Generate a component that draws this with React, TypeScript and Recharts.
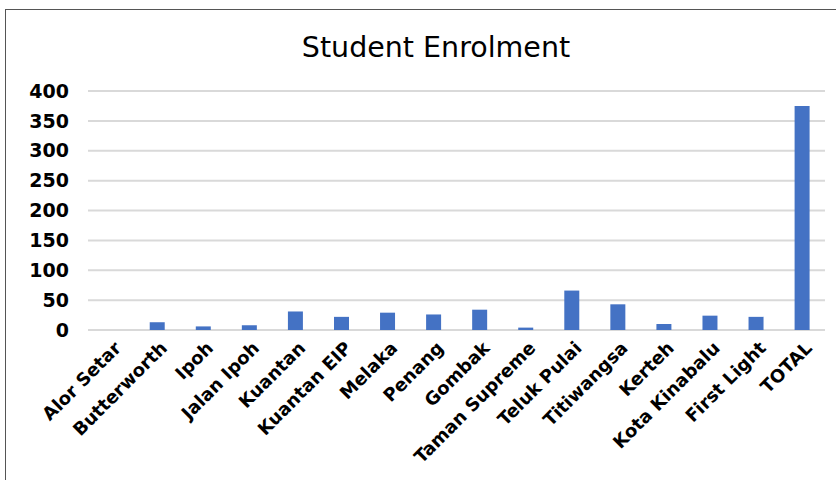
import React from 'react';
import { BarChart, Bar, XAxis, YAxis, CartesianGrid } from 'recharts';

const branches = [
  'Alor Setar',
  'Butterworth',
  'Ipoh',
  'Jalan Ipoh',
  'Kuantan',
  'Kuantan EIP',
  'Melaka',
  'Penang',
  'Gombak',
  'Taman Supreme',
  'Teluk Pulai',
  'Titiwangsa',
  'Kerteh',
  'Kota Kinabalu',
  'First Light',
  'TOTAL',
];

const enrolment = [0, 13, 6, 8, 31, 22, 29, 26, 34, 4, 66, 43, 10, 24, 22, 375];

const yTicks = [0, 50, 100, 150, 200, 250, 300, 350, 400];

const data = branches.map((name, i) => ({ name, value: enrolment[i] }));

const FONT = '"DejaVu Sans", Verdana, sans-serif';

// rotated category labels, anchored at the end like Excel does
const BranchTick = (props: any) => {
  const { x, y, payload } = props;
  return (
    <g transform={`translate(${x + 2},${y + 2})`}>
      <text
        transform="rotate(-45)"
        textAnchor="end"
        dy="0.72em"
        fontFamily={FONT}
        fontWeight="bold"
        fontSize={18}
        fill="#000"
      >
        {payload.value}
      </text>
    </g>
  );
};

export default function App() {
  return (
    <div
      style={{
        position: 'fixed',
        left: 0,
        top: 0,
        width: 836,
        height: 480,
        background: '#fff',
        overflow: 'hidden',
      }}
    >
      <div
        style={{
          position: 'absolute',
          left: 5,
          top: 9,
          width: 900,
          height: 600,
          border: '1px solid #555',
        }}
      />
      <div
        style={{
          position: 'absolute',
          left: 0,
          width: 872,
          top: 31,
          textAlign: 'center',
          fontFamily: FONT,
          fontSize: 28.5,
          color: '#000',
        }}
      >
        Student Enrolment
      </div>
      <div style={{ position: 'absolute', left: 0, top: 0 }}>
        <BarChart
          width={836}
          height={480}
          data={data}
          margin={{ top: 91, right: 11, bottom: 0, left: 0 }}
          barCategoryGap="34%"
        >
          <CartesianGrid vertical={false} stroke="#d9d9d9" strokeWidth={2} />
          <XAxis
            dataKey="name"
            interval={0}
            height={150}
            tickLine={false}
            axisLine={false}
            tick={<BranchTick />}
          />
          <YAxis
            width={88}
            domain={[0, 400]}
            ticks={yTicks}
            tickLine={false}
            axisLine={false}
            tickSize={0}
            tickMargin={19}
            tick={{ fontFamily: FONT, fontWeight: 'bold', fontSize: 19, fill: '#000' }}
          />
          <Bar dataKey="value" fill="#4472c4" isAnimationActive={false} />
        </BarChart>
      </div>
    </div>
  );
}
